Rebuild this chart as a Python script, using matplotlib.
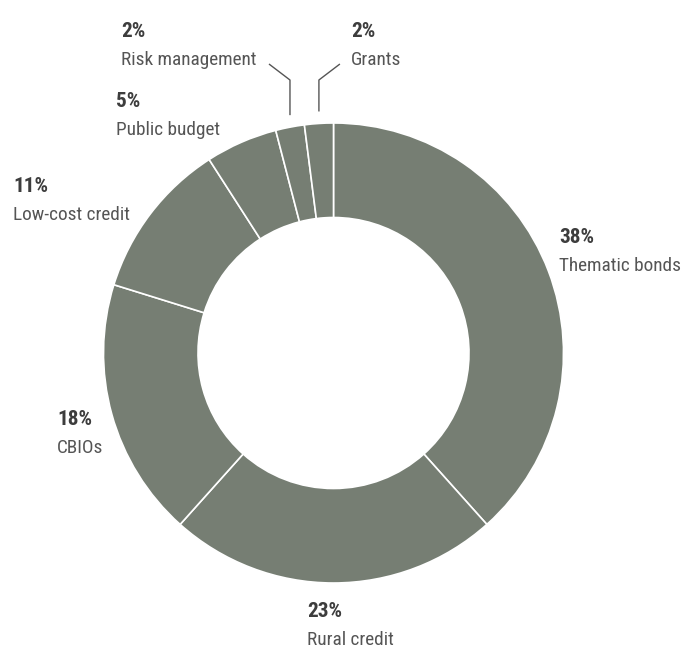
import matplotlib
matplotlib.use("Agg")
import matplotlib.pyplot as plt
from matplotlib import font_manager
import numpy as np

# ---- data ----
labels = ["Thematic bonds", "Rural credit", "CBIOs", "Low-cost credit",
          "Public budget", "Risk management", "Grants"]
shares = [38, 23, 18, 11, 5, 2, 2]

# ---- style ----
W, H = 682, 650
CX, CY = 333.5, H - 353          # donut centre (pixel units, y up)
R_OUT, R_IN = 230, 135.5
FILL = "#767e73"
PCT_COLOR = "#3d3d3d"
NAME_COLOR = "#555555"


def pick_font(cands):
    for c in cands:
        try:
            font_manager.findfont(c, fallback_to_default=False)
            return c
        except ValueError:
            pass
    return "DejaVu Sans"


FONT = pick_font(["Liberation Sans Narrow", "DejaVu Sans Condensed",
                  "Roboto Condensed", "Roboto", "Lato"])
NAME_W = 117                     # wanted width of "Low-cost credit" in px

# label anchor (left x, baseline of the percent line, in image pixels from top)
label_pos = {
    "Thematic bonds": (559, 243),
    "Rural credit": (307, 617),
    "CBIOs": (57, 425),
    "Low-cost credit": (13, 192),
    "Public budget": (116, 107),
    "Risk management": (121, 37),
    "Grants": (351, 37),
}
LINE_GAP = 28

fig = plt.figure(figsize=(W / 100, H / 100), dpi=100)
ax = fig.add_axes([0, 0, 1, 1])

# size the label font so the names take the same room as in print
probe = fig.text(0, 0, "Low-cost credit", fontsize=15, family=FONT)
w15 = probe.get_window_extent(fig.canvas.get_renderer()).width
probe.remove()
FS = min(15.0, 15.0 * NAME_W / w15)

wedges, _ = ax.pie(shares, center=(CX, CY), radius=R_OUT, startangle=90,
                   counterclock=False, colors=[FILL] * len(shares),
                   wedgeprops=dict(width=R_OUT - R_IN, edgecolor="white",
                                   linewidth=1.2))

ax.set_xlim(0, W)
ax.set_ylim(0, H)
ax.set_aspect("equal")
ax.axis("off")

for name, pct in zip(labels, shares):
    x, yb = label_pos[name]
    ax.text(x, H - yb, f"{pct}%", fontsize=FS + 1.5, fontweight="bold",
            color=PCT_COLOR, family=FONT, ha="left", va="baseline")
    ax.text(x, H - yb - LINE_GAP, name, fontsize=FS, color=NAME_COLOR,
            family=FONT, ha="left", va="baseline")

# leader lines for the two thin slices at the top
for w, name in zip(wedges, labels):
    if name not in ("Risk management", "Grants"):
        continue
    mid = np.deg2rad((w.theta1 + w.theta2) / 2)
    x0 = CX + R_OUT * np.cos(mid)
    y_edge = CY + R_OUT * np.sin(mid)
    y_knee = H - 80
    dx = -21 if name == "Risk management" else 21
    ax.plot([x0, x0, x0 + dx], [y_edge + 12, y_knee, H - 64],
            color=NAME_COLOR, lw=1.0, solid_capstyle="butt")

fig.savefig("out.png", dpi=100)
